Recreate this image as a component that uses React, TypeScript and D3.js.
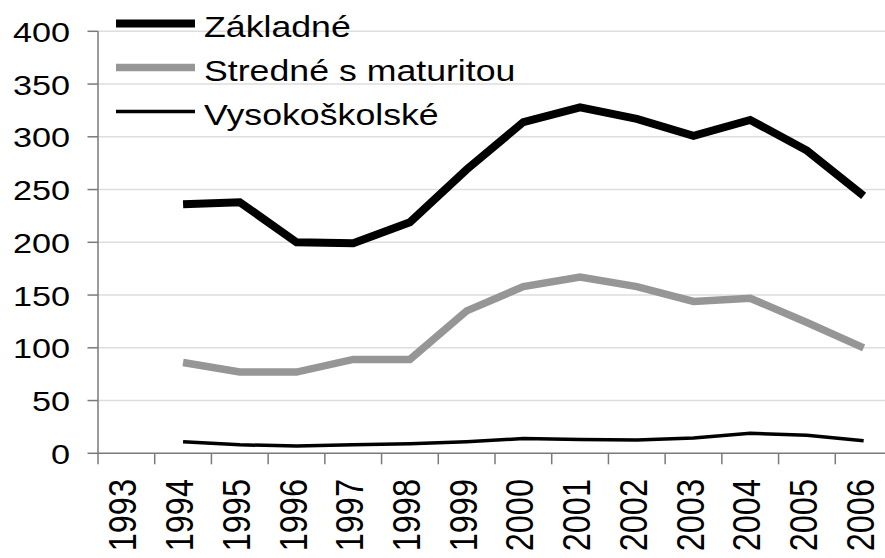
import { useRef, useEffect } from 'react';
import * as d3 from 'd3';

const YEARS = ['1993', '1994', '1995', '1996', '1997', '1998', '1999', '2000', '2001', '2002', '2003', '2004', '2005', '2006'];
const SERIES_YEARS = YEARS.slice(1);

const ZAKLADNE = [236, 238, 200, 199, 219, 269, 314, 328, 317, 301, 316, 287, 244];
const STREDNE = [86, 77, 77, 89, 89, 135, 158, 167, 158, 144, 147, 124, 100];
const VYSOKO = [11, 8, 7, 8, 9, 11, 14, 13, 12.6, 14.5, 19, 17, 12];

const Y_TICKS = [0, 50, 100, 150, 200, 250, 300, 350, 400];
const NAMES = ['Základné', 'Stredné s maturitou', 'Vysokoškolské'];

export default function App() {
  const svgRef = useRef<SVGSVGElement>(null);
  const width = 885;
  const height = 558;

  useEffect(() => {
    const svg = d3.select(svgRef.current);
    svg.selectAll('*').remove();
    const font = 'Liberation Sans, Arial, sans-serif';

    const x = d3.scaleBand().domain(YEARS).range([98, 892]);
    const y = d3.scaleLinear().domain([0, 400]).range([453.3, 31.3]);
    const cx = (d: string) => (x(d) as number) + x.bandwidth() / 2;

    // gridlines
    svg.append('g')
      .selectAll('line')
      .data(Y_TICKS.filter((t) => t > 0))
      .join('line')
      .attr('x1', 98)
      .attr('x2', width)
      .attr('y1', (d) => y(d))
      .attr('y2', (d) => y(d))
      .attr('stroke', '#dddddd')
      .attr('stroke-width', 1.5);

    // y axis
    const ya = svg.append('g');
    ya.append('line')
      .attr('x1', 98).attr('x2', 98)
      .attr('y1', y(400)).attr('y2', y(0))
      .attr('stroke', '#7a7a7a').attr('stroke-width', 1.5);
    Y_TICKS.forEach((t) => {
      ya.append('line')
        .attr('x1', 87.5).attr('x2', 98)
        .attr('y1', y(t)).attr('y2', y(t))
        .attr('stroke', '#7a7a7a').attr('stroke-width', 1.5);
      ya.append('text')
        .attr('transform', `translate(70,${y(t) + 1}) scale(1.2,1)`)
        .attr('text-anchor', 'end')
        .attr('dominant-baseline', 'central')
        .attr('font-family', font)
        .attr('font-size', 28.5)
        .attr('fill', '#000')
        .text(t);
    });

    // x axis
    const xa = svg.append('g');
    xa.append('line')
      .attr('x1', 98).attr('x2', width)
      .attr('y1', y(0)).attr('y2', y(0))
      .attr('stroke', '#7a7a7a').attr('stroke-width', 1.5);
    YEARS.forEach((yr) => {
      const bx = x(yr) as number;
      xa.append('line')
        .attr('x1', bx).attr('x2', bx)
        .attr('y1', y(0)).attr('y2', y(0) + 11)
        .attr('stroke', '#7a7a7a').attr('stroke-width', 1.5);
      xa.append('text')
        .attr('transform', `translate(${cx(yr) - 3},479) scale(1.2,1) rotate(-90)`)
        .attr('text-anchor', 'end')
        .attr('dominant-baseline', 'central')
        .attr('font-family', font)
        .attr('font-size', 32.5)
        .attr('fill', '#000')
        .text(yr);
    });

    // lines
    const line = d3.line<number>()
      .x((_, i) => cx(SERIES_YEARS[i]))
      .y((d) => y(d));

    const styles = [
      { data: ZAKLADNE, color: '#000000', w: 8 },
      { data: STREDNE, color: '#969696', w: 7.5 },
      { data: VYSOKO, color: '#000000', w: 3.5 },
    ];

    styles.forEach((s) => {
      svg.append('path')
        .attr('d', line(s.data))
        .attr('fill', 'none')
        .attr('stroke', s.color)
        .attr('stroke-width', s.w)
        .attr('stroke-linejoin', 'miter')
        .attr('stroke-linecap', 'butt');
    });

    // legend
    const lg = svg.append('g');
    styles.forEach((s, i) => {
      const ly = 23.5 + i * 44;
      lg.append('line')
        .attr('x1', 116).attr('x2', 195)
        .attr('y1', ly).attr('y2', ly)
        .attr('stroke', s.color)
        .attr('stroke-width', s.w);
      lg.append('text')
        .attr('transform', `translate(204,${ly + 3}) scale(1.21,1)`)
        .attr('dominant-baseline', 'central')
        .attr('font-family', font)
        .attr('font-size', 29.5)
        .attr('fill', '#000')
        .text(NAMES[i]);
    });
  }, []);

  return (
    <svg
      ref={svgRef}
      width={width}
      height={height}
      style={{ position: 'absolute', left: 0, top: 0, background: '#fff' }}
    />
  );
}
